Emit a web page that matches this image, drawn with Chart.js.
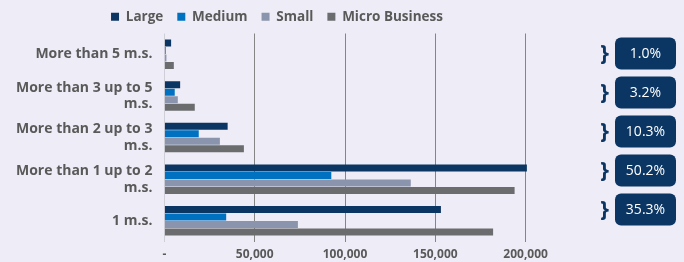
<!DOCTYPE html>
<html>
<head>
<meta charset="utf-8">
<script src="https://cdn.jsdelivr.net/npm/chart.js@4/dist/chart.umd.min.js"></script>
<style>
  html, body { margin: 0; padding: 0; background: #eeedf7; }
  #wrap { position: relative; width: 684px; height: 262px; }
</style>
</head>
<body>
<div id="wrap"><canvas id="c" width="684" height="262"></canvas></div>
<script>
const categories = [
  ['More than 5 m.s.'],
  ['More than 3 up to 5', 'm.s.'],
  ['More than 2 up to 3', 'm.s.'],
  ['More than 1 up to 2', 'm.s.'],
  ['1 m.s.']
];
const seriesNames = ['Large', 'Medium', 'Small', 'Micro Business'];
const large  = [3700, 8700, 35000, 200700, 153100];
const medium = [700, 5700, 19000, 92400, 34200];
const small  = [1100, 7400, 30700, 136400, 73900];
const micro  = [5200, 16800, 44000, 193900, 182000];
const shares = ['1.0%', '3.2%', '10.3%', '50.2%', '35.3%'];
const xTicks = [0, 50000, 100000, 150000, 200000];

const colors = ['#0b3562', '#0070c0', '#8a94ad', '#6b6c6e'];
const FONT = '"Open Sans", "Liberation Sans", sans-serif';

const sharePlugin = {
  id: 'shares',
  afterDraw(chart) {
    const ctx = chart.ctx;
    const top = chart.chartArea.top;
    ctx.save();
    shares.forEach((s, i) => {
      const cy = top + 20 + i * 39;
      const x = 615, w = 61, h = 32, r = 6, y = cy - h / 2;
      ctx.fillStyle = '#0b3562';
      ctx.beginPath();
      ctx.moveTo(x + r, y);
      ctx.arcTo(x + w, y, x + w, y + h, r);
      ctx.arcTo(x + w, y + h, x, y + h, r);
      ctx.arcTo(x, y + h, x, y, r);
      ctx.arcTo(x, y, x + w, y, r);
      ctx.closePath();
      ctx.fill();
      ctx.fillStyle = '#ffffff';
      ctx.font = '14px ' + FONT;
      ctx.textAlign = 'center';
      ctx.textBaseline = 'middle';
      ctx.fillText(s, x + w / 2, cy + 1);
      ctx.fillStyle = '#0b3562';
      ctx.font = 'bold 22px ' + FONT;
      ctx.fillText('}', 604.5, cy);
    });
    ctx.restore();
  }
};

new Chart(document.getElementById('c'), {
  type: 'bar',
  data: {
    labels: categories,
    datasets: [large, medium, small, micro].map((d, i) => ({
      label: seriesNames[i],
      data: d,
      backgroundColor: colors[i],
      borderWidth: 0,
      barPercentage: 0.93,
      categoryPercentage: 0.72
    }))
  },
  options: {
    indexAxis: 'y',
    responsive: false,
    animation: false,
    layout: { padding: { left: 4, right: 134, top: -4, bottom: -6.4 } },
    plugins: {
      legend: {
        position: 'top',
        labels: {
          boxWidth: 8, boxHeight: 8, padding: 14,
          color: '#595959',
          font: { family: FONT, size: 13.5, weight: 'bold' }
        }
      },
      tooltip: { enabled: false }
    },
    scales: {
      x: {
        min: 0, max: 213500,
        afterBuildTicks(scale) {
          scale.ticks = xTicks.map(v => ({ value: v }));
        },
        grid: {
          drawTicks: false,
          color: (c) => (c.tick && c.tick.value === 0) ? '#cfcfd8' : '#858585',
          lineWidth: 1
        },
        border: { display: false },
        ticks: {
          padding: 6,
          color: '#595959',
          font: { family: FONT, size: 12, weight: 'bold' },
          callback: (v) => v === 0 ? '-' : v.toLocaleString('en-US')
        }
      },
      y: {
        grid: { display: false, drawTicks: false },
        border: { display: false },
        ticks: {
          padding: 12,
          color: '#595959',
          font: { family: FONT, size: 14, weight: 'bold', lineHeight: 1.2 }
        }
      }
    }
  },
  plugins: [sharePlugin]
});
</script>
</body>
</html>
